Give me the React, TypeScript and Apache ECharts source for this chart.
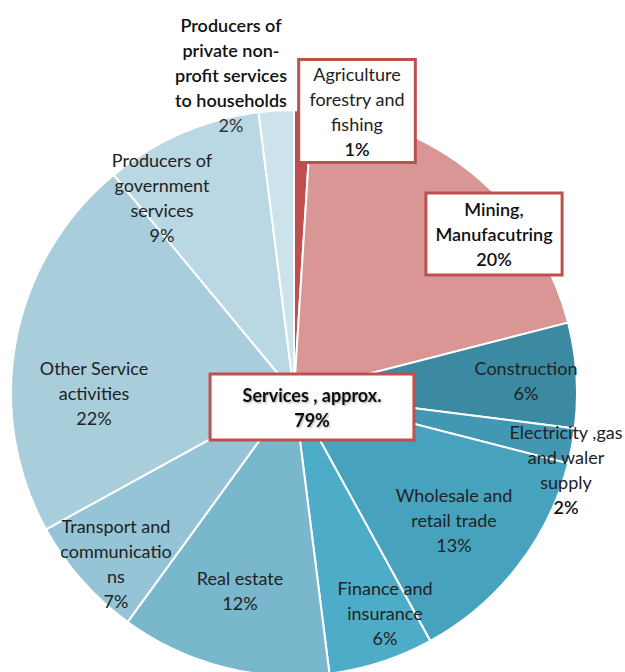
import React, { useEffect, useRef } from "react";
import * as echarts from "echarts";

const categories = [
  "Agriculture\nforestry and\nfishing",
  "Mining,\nManufacutring",
  "Construction",
  "Electricity ,gas\nand waler\nsupply",
  "Wholesale and\nretail trade",
  "Finance and\ninsurance",
  "Real estate",
  "Transport and\ncommunicatio\nns",
  "Other Service\nactivities",
  "Producers of\ngovernment\nservices",
  "Producers of\nprivate non-\nprofit services\nto households",
];
const shares = [1, 20, 6, 2, 13, 6, 12, 7, 22, 9, 2];
const servicesLabel = "Services , approx.";
const servicesShare = 79;

const colors = [
  "#C0504D", "#D99694", "#3B8AA2", "#4298B2", "#47A2BE", "#4DADC8",
  "#78B7CC", "#94C4D5", "#A8CEDC", "#BAD8E4", "#CDE3EB",
];
// label centre positions (px) for each slice
const labelPos: [number, number][] = [
  [357, 111], [494, 234], [526, 380], [566, 469], [454, 520], [385, 613],
  [240, 590], [116, 563], [94, 393], [162, 197], [231, 75],
];
const boxed = [true, true, false, false, false, false, false, false, false, false, false];
const boldText = [false, true, false, false, false, false, false, false, false, false, true];

export default function App() {
  const ref = useRef<HTMLDivElement>(null);
  useEffect(() => {
    document.body.style.margin = "0";
    const chart = echarts.init(ref.current!, null, { renderer: "svg" });
    const font = "Lato, 'Noto Sans', sans-serif";
    const data = categories.map((c, i) => ({
      name: c,
      value: shares[i],
      itemStyle: { color: colors[i] },
      label: boxed[i]
        ? {
            backgroundColor: "#ffffff",
            borderColor: "#C0504D",
            borderWidth: 3,
            padding: i === 0 ? [0, 9, 0, 9] : [2, 8, 2, 8],
          }
        : {},
    }));
    chart.setOption({
      animation: false,
      series: [
        {
          type: "pie",
          center: [294, 393],
          radius: 283,
          startAngle: 90,
          clockwise: true,
          avoidLabelOverlap: false,
          data,
          itemStyle: { borderColor: "#ffffff", borderWidth: 2 },
          emphasis: { disabled: true },
          label: {
            show: true,
            position: "inside",
            fontFamily: font,
            fontSize: 18,
            lineHeight: 25,
            color: "#222",
            align: "center",
            formatter: (p: any) => {
              const i = p.dataIndex;
              const lines = String(p.name).split("\n");
              if (boldText[i]) {
                if (i === 10) {
                  return lines.map((l) => `{b|${l}}`).join("\n") + `\n{n|${shares[i]}%}`;
                }
                return lines.map((l) => `{b|${l}}`).join("\n") + `\n{b|${shares[i]}%}`;
              }
              if (i === 0) return p.name + `\n{b|${shares[i]}%}`;
              if (i === 3) return p.name + `\n{b|${shares[i]}%}`;
              return p.name + `\n${shares[i]}%`;
            },
            rich: {
              b: { fontFamily: font, fontSize: 18, lineHeight: 25, fontWeight: 600, color: "#111" },
              n: { fontFamily: font, fontSize: 18, lineHeight: 25, color: "#333" },
            },
          },
          labelLine: { show: false },
          labelLayout: (params: any) => {
            const pos = labelPos[params.dataIndex];
            return { x: pos[0], y: pos[1], align: "center", verticalAlign: "middle" };
          },
        },
      ],
      graphic: [
        {
          type: "text",
          x: 312,
          y: 407,
          z: 100,
          style: {
            text: `${servicesLabel}\n${servicesShare}%`,
            fontFamily: font,
            fontSize: 18,
            fontWeight: "bold",
            lineHeight: 25,
            fill: "#111",
            align: "center",
            verticalAlign: "middle",
            backgroundColor: "#ffffff",
            borderColor: "#C0504D",
            borderWidth: 3,
            padding: [7, 31, 6, 31],
            textShadowColor: "rgba(0,0,0,0.35)",
            textShadowBlur: 2,
            textShadowOffsetX: 1,
            textShadowOffsetY: 1,
          },
        },
      ],
    });
    return () => chart.dispose();
  }, []);
  return <div ref={ref} style={{ width: 625, height: 672 }} />;
}
